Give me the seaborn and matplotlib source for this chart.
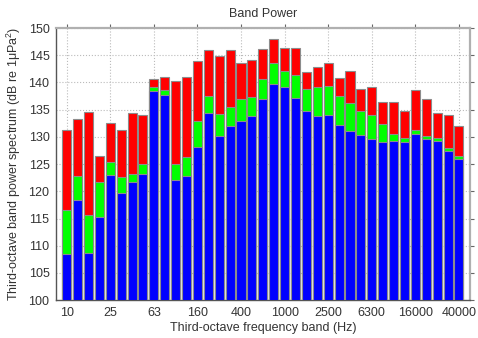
import matplotlib
matplotlib.use("Agg")
import matplotlib.pyplot as plt
import seaborn as sns
import pandas as pd

bands = ["10", "12.5", "16", "20", "25", "31.5", "40", "50", "63", "80", "100", "125",
         "160", "200", "250", "315", "400", "500", "630", "800", "1000", "1250", "1600",
         "2000", "2500", "3150", "4000", "5000", "6300", "8000", "10000", "12500",
         "16000", "20000", "25000", "31500", "40000"]
blue_level = [108.4, 118.4, 108.7, 115.3, 123.0, 119.7, 121.8, 123.2, 138.4, 137.7, 122.1, 122.9,
              128.2, 134.4, 130.1, 132.0, 132.9, 133.8, 136.9, 139.7, 139.1, 137.1, 134.8,
              133.8, 134.0, 132.2, 131.0, 130.3, 129.6, 129.1, 129.3, 129.0,
              130.6, 129.6, 129.2, 127.4, 125.9]
green_level = [116.6, 122.8, 115.6, 121.7, 125.4, 122.6, 123.1, 125.1, 139.1, 138.6, 125.1, 126.3,
               132.9, 137.5, 134.2, 135.5, 136.9, 137.4, 140.7, 143.5, 142.2, 141.3, 138.8,
               139.1, 139.3, 137.5, 136.2, 134.8, 134.0, 132.4, 130.6, 129.8,
               131.2, 130.1, 129.8, 127.9, 126.5]
red_level = [131.2, 133.3, 134.5, 126.5, 132.5, 131.3, 134.4, 134.0, 140.6, 141.0, 140.3, 141.0,
             143.9, 145.9, 144.9, 145.9, 143.5, 144.1, 146.2, 148.0, 146.4, 146.3, 142.0,
             142.8, 143.6, 140.9, 142.2, 138.8, 139.2, 136.4, 136.5, 134.7,
             138.7, 137.0, 134.4, 134.0, 132.0]
tick_bands = ["10", "25", "63", "160", "400", "1000", "2500", "6300", "16000", "40000"]

df = pd.DataFrame({"band": bands, "blue": blue_level, "green": green_level, "red": red_level})

sns.set_style("white")
plt.rcParams["font.family"] = ["Liberation Sans", "DejaVu Sans"]
plt.rcParams["mathtext.fontset"] = "custom"
plt.rcParams["mathtext.rm"] = "Liberation Sans"
plt.rcParams["mathtext.it"] = "Liberation Sans:italic"

fig = plt.figure(figsize=(4.78, 3.38), dpi=100)
ax = fig.add_axes([0.118, 0.112, 0.865, 0.805])

edge = "#8c8c8c"
for col, c in [("red", "#ff0000"), ("green", "#00ff00"), ("blue", "#0000ff")]:
    sns.barplot(data=df, x="band", y=col, order=bands, color=c, saturation=1,
                width=0.83, edgecolor=edge, linewidth=0.8, ax=ax, zorder=3)

ax.set_ylim(100, 150)
ax.set_xlim(-0.94, 37.0)
ax.set_yticks(range(100, 151, 5))
ax.set_xticks([bands.index(t) for t in tick_bands])
ax.set_xticklabels(tick_bands)
ax.tick_params(axis="both", labelsize=9, direction="out", length=3, width=0.8,
               color="#666666", top=True, right=True, labelcolor="#333333", pad=2)
ax.grid(True, linestyle=":", color="#bbbbbb", linewidth=0.8, zorder=0)
ax.set_axisbelow(True)
for s in ax.spines.values():
    s.set_color("#999999")
    s.set_linewidth(1.0)
ax.spines["top"].set_linewidth(1.6)
ax.spines["top"].set_color("#b0b0b0")
ax.spines["right"].set_linewidth(1.6)
ax.spines["right"].set_color("#b0b0b0")
ax.spines["left"].set_color("#555555")
ax.spines["bottom"].set_color("#555555")

ax.set_title("Band Power", fontsize=9, color="#333333", pad=8)
ax.set_xlabel("Third-octave frequency band (Hz)", fontsize=9, color="#333333", labelpad=2)
ax.set_ylabel("Third-octave band power spectrum (dB re 1μPa$^2$)", fontsize=9,
              color="#333333", labelpad=4)

fig.savefig("out.png", dpi=100)
